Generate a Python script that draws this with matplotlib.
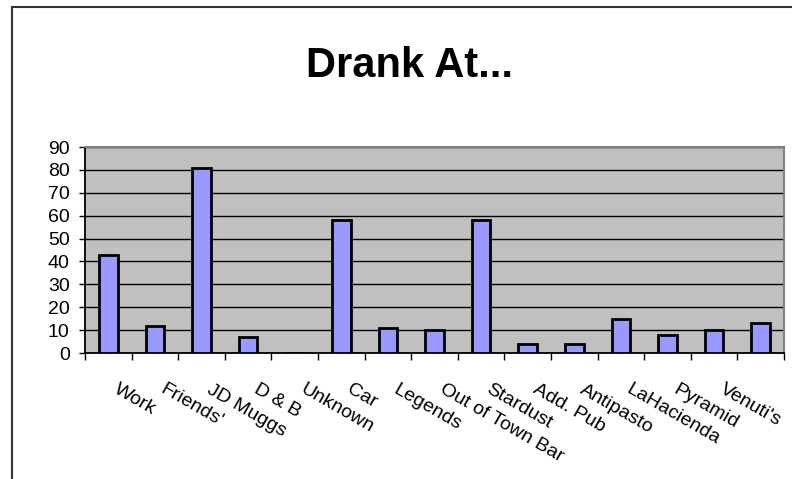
import numpy as np
import matplotlib.pyplot as plt
import matplotlib.transforms as mtransforms
from matplotlib.patches import Rectangle

plt.rcParams['font.family'] = ['Liberation Sans', 'DejaVu Sans']

# Data
places = ['Work', "Friends'", 'JD Muggs', 'D & B', 'Unknown', 'Car', 'Legends',
          'Out of Town Bar', 'Stardust', 'Add. Pub', 'Antipasto', 'LaHacienda',
          'Pyramid', "Venuti's", '']
counts = [43, 12, 81, 7, 0, 58, 11, 10, 58, 4, 4, 15, 8, 10, 13]
y_ticks = list(range(0, 100, 10))

fig = plt.figure(figsize=(7.92, 4.79), dpi=100)
ax = fig.add_axes([85/792, 1 - 353/479, (784 - 85)/792, (353 - 147)/479])

x = np.arange(len(places))
ax.set_facecolor('#C0C0C0')
ax.yaxis.grid(True, color='black', linewidth=1.0)
ax.set_axisbelow(True)
ax.bar(x, counts, width=0.4, color='#9999FF', edgecolor='black', linewidth=2.0, zorder=3)

ax.set_xlim(-0.5, len(places) - 0.5)
ax.set_ylim(0, 90)
ax.set_yticks(y_ticks)
ax.tick_params(axis='y', direction='out', length=4.5, width=1, pad=6.5, labelsize=14)

# category ticks sit between bars, labels sit under bars
ax.set_xticks(np.arange(-0.5, len(places), 1.0))
ax.set_xticklabels([])
ax.set_xticks(x, minor=True)
ax.set_xticklabels(places, minor=True, rotation=-30, ha='left', va='top',
                   rotation_mode='anchor', fontsize=14)
ax.tick_params(axis='x', which='major', direction='out', length=5, width=1)
ax.tick_params(axis='x', which='minor', length=0, pad=20)
shift = mtransforms.ScaledTranslation(11/100, 0, fig.dpi_scale_trans)
for lbl in ax.get_xticklabels(minor=True):
    lbl.set_transform(lbl.get_transform() + shift)

for side in ['left', 'bottom']:
    ax.spines[side].set_color('black')
    ax.spines[side].set_linewidth(1.3)
for side in ['top', 'right']:
    ax.spines[side].set_color('#808080')
    ax.spines[side].set_linewidth(1.5)

fig.text(410/792, 1 - 66/479, 'Drank At...', ha='center', va='center',
         fontsize=30, fontweight='bold')

# chart area border (cropped on the right and bottom)
fig.patches.append(Rectangle((12/792, -0.05), 1.0, 1 - 7/479 + 0.05,
                             transform=fig.transFigure, fill=False,
                             edgecolor='#333333', linewidth=1.5))

fig.savefig('out.png', dpi=100)
